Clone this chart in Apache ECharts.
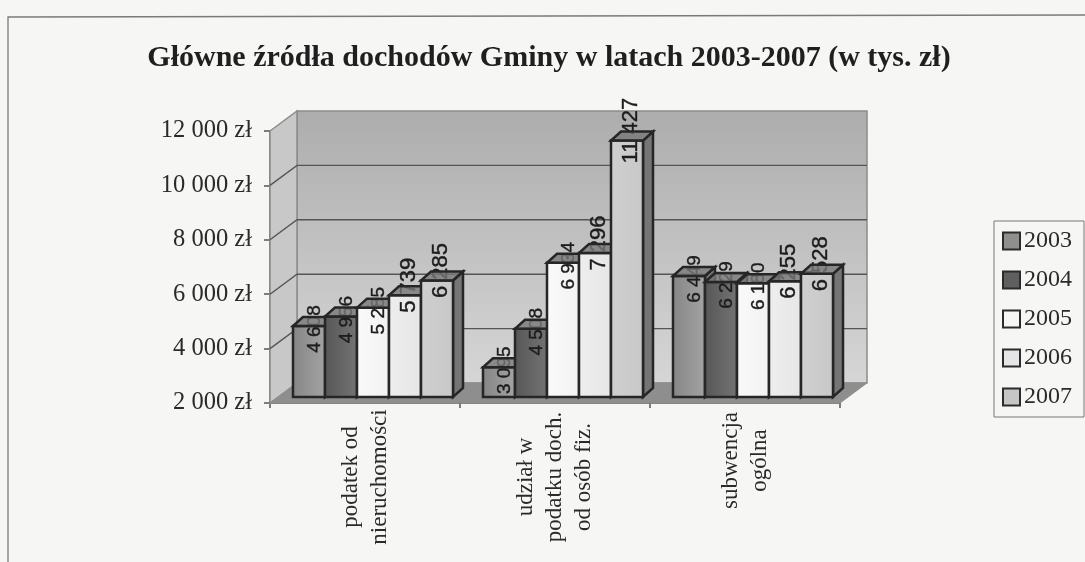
<!DOCTYPE html>
<html><head><meta charset="utf-8">
<style>html,body{margin:0;padding:0;background:#f6f6f5}#c{width:1085px;height:562px}</style>
<script src="https://cdn.jsdelivr.net/npm/echarts@6/dist/echarts.min.js"></script>
</head><body><div id="c"></div>
<script>
const categories = ['podatek od\nnieruchomości', 'udział w\npodatku doch.\nod osób fiz.', 'subwencja\nogólna'];
const years = ['2003', '2004', '2005', '2006', '2007'];
const v2003 = [4608, 3095, 6449];
const v2004 = [4956, 4508, 6229];
const v2005 = [5285, 6934, 6180];
const v2006 = [5739, 7296, 6255];
const v2007 = [6285, 11427, 6528];
const yTicks = [2000, 4000, 6000, 8000, 10000, 12000];
const values = [v2003, v2004, v2005, v2006, v2007];
const colors = [['#858585', '#a4a4a4'], ['#565656', '#747474'], ['#fafafa', '#f2f2f2'], ['#eeeeee', '#e6e6e6'], ['#cfcfcf', '#c8c8c8']];
const swatch = ['#8f8f8f', '#5f5f5f', '#f6f6f6', '#e6e6e6', '#c6c6c6'];
const labelStyle = [[19, 6, 3], [19, 6, 3], [19, 6, 3], [22, 4, -10], [22, 4, -10]];

const DX = 27, DY = 20, BX = 8, BY = 6, DEPTHX = 10, DEPTHY = 9, BARW = 32, GAP = 15, EDGE = '#262626';
const fmt = n => String(n).replace(/\B(?=(\d{3})+$)/g, ' ');

function renderWalls(params, api) {
  const w = api.size([1, 0])[0];
  const x0 = api.coord([0, 2000])[0] - w / 2;
  const x1 = x0 + w * categories.length;
  const yb = api.coord([0, 2000])[1], yt = api.coord([0, 12000])[1];
  const wallGrad = { type: 'linear', x: 0, y: 0, x2: 0, y2: 1, colorStops: [{ offset: 0, color: '#adadad' }, { offset: 1, color: '#d6d6d6' }] };
  const kids = [
    { type: 'polygon', shape: { points: [[x0 + DX, yt - DY], [x1 + DX, yt - DY], [x1 + DX, yb - DY], [x0 + DX, yb - DY]] }, style: { fill: wallGrad, stroke: '#8c8c8c', lineWidth: 1.5 } },
    { type: 'polygon', shape: { points: [[x0, yt], [x0 + DX, yt - DY], [x0 + DX, yb - DY], [x0, yb]] }, style: { fill: '#c8c8c8', stroke: '#8c8c8c', lineWidth: 1.5 } },
    { type: 'polygon', shape: { points: [[x0, yb], [x0 + DX, yb - DY], [x1 + DX, yb - DY], [x1, yb]] }, style: { fill: '#8e8e8e', stroke: '#8e8e8e', lineWidth: 1 } }
  ];
  yTicks.forEach(t => {
    if (t === 2000 || t === 12000) return;
    const y = api.coord([0, t])[1];
    kids.push({ type: 'polyline', shape: { points: [[x0, y], [x0 + DX, y - DY], [x1 + DX, y - DY]] }, style: { fill: 'none', stroke: '#555555', lineWidth: 1.4 } });
  });
  return { type: 'group', children: kids };
}

function renderBar(idx) {
  return function (params, api) {
    const cat = api.value(0), val = api.value(1);
    const w = api.size([1, 0])[0];
    const x = api.coord([cat, val])[0] - w / 2 + GAP + BX + idx * BARW;
    const yTop = api.coord([cat, val])[1] - BY;
    const yBot = api.coord([cat, 2000])[1] - BY;
    const r = x + BARW;
    const line = { stroke: EDGE, lineWidth: 2.5, lineJoin: 'miter' };
    const ls = labelStyle[idx];
    return {
      type: 'group', children: [
        { type: 'polygon', shape: { points: [[r, yTop], [r + DEPTHX, yTop - DEPTHY], [r + DEPTHX, yBot - DEPTHY], [r, yBot]] }, style: Object.assign({ fill: '#757575' }, line) },
        { type: 'rect', shape: { x, y: yTop, width: BARW, height: yBot - yTop }, style: Object.assign({ fill: { type: 'linear', x: 0, y: 0, x2: 1, y2: 0, colorStops: [{ offset: 0, color: colors[idx][0] }, { offset: 1, color: colors[idx][1] }] } }, line) },
        { type: 'text', x: x + BARW / 2 + ls[1], y: yTop + ls[2], rotation: Math.PI / 2, style: { text: fmt(val), fill: '#1c1c1c', font: ls[0] + 'px "Liberation Sans"', align: 'center', verticalAlign: 'middle', stroke: '#1c1c1c', lineWidth: 0.4 } },
        { type: 'polygon', shape: { points: [[x, yTop], [r, yTop], [r + DEPTHX, yTop - DEPTHY], [x + DEPTHX, yTop - DEPTHY]] }, style: { fill: 'rgba(120,120,120,0.8)', stroke: EDGE, lineWidth: 2.5 } }
      ]
    };
  };
}

const series = [{
  type: 'custom', name: 'walls', silent: true, z: 1, renderItem: renderWalls, data: [[0, 2000]], clip: false,
  encode: { x: 0, y: 1 }
}];
years.forEach((y, i) => series.push({
  type: 'custom', name: y, z: 2 + i, clip: false, renderItem: renderBar(i),
  itemStyle: { color: swatch[i] }, encode: { x: 0, y: 1 },
  data: categories.map((c, k) => [k, values[i][k]])
}));

const chart = echarts.init(document.getElementById('c'), null, { renderer: 'canvas' });
chart.setOption({
  animation: false,
  backgroundColor: '#f6f6f5',
  title: {
    text: 'Główne źródła dochodów Gminy w latach 2003-2007 (w tys. zł)', left: 544, top: 38, textAlign: 'center',
    textStyle: { fontFamily: 'Liberation Serif', fontWeight: 'bold', fontSize: 30, color: '#1f1f1f' }
  },
  legend: {
    orient: 'vertical', left: 994, top: 221, padding: [8, 12, 8, 8], itemGap: 15, itemWidth: 17, itemHeight: 17,
    data: years.map((y, i) => ({ name: y, icon: 'rect', itemStyle: { color: swatch[i], borderColor: '#2b2b2b', borderWidth: 2 } })),
    borderColor: '#777777', borderWidth: 1, backgroundColor: '#f6f6f5',
    textStyle: { fontFamily: 'Liberation Serif', fontSize: 24, color: '#2a2a2a', padding: [0, 0, 0, -1] }
  },
  grid: { left: 270, right: 245, top: 131, bottom: 159, outerBoundsMode: 'none', containLabel: false },
  xAxis: {
    type: 'category', boundaryGap: true,
    data: [categories[0], categories[1], { value: categories[2], textStyle: { align: 'center', verticalAlign: 'middle', padding: [0, -33, 0, 0] } }],
    axisLine: { lineStyle: { color: '#555555', width: 1.5 } },
    axisTick: { show: true, alignWithLabel: false, length: 5, lineStyle: { color: '#555555', width: 1.5 } },
    axisLabel: { rotate: 90, margin: 74, interval: 0, fontFamily: 'Liberation Serif', fontSize: 23, lineHeight: 29, color: '#2a2a2a', align: 'center', verticalAlign: 'middle', hideOverlap: false }
  },
  yAxis: {
    type: 'value', min: 2000, max: 12000, interval: 2000,
    splitLine: { show: false },
    axisLine: { show: true, lineStyle: { color: '#555555', width: 1.5 } },
    axisTick: { show: true, length: 6, lineStyle: { color: '#555555', width: 1.5 } },
    axisLabel: { margin: 18, fontFamily: 'Liberation Serif', fontSize: 24.5, color: '#2a2a2a', formatter: v => fmt(v) + ' zł' }
  },
  graphic: [{
    type: 'polyline', silent: true, z: 0,
    shape: { points: [[8, 562], [8, 17], [1085, 15]] },
    style: { fill: 'none', stroke: '#7a7a7a', lineWidth: 1.3 }
  }],
  series
});
</script></body></html>
